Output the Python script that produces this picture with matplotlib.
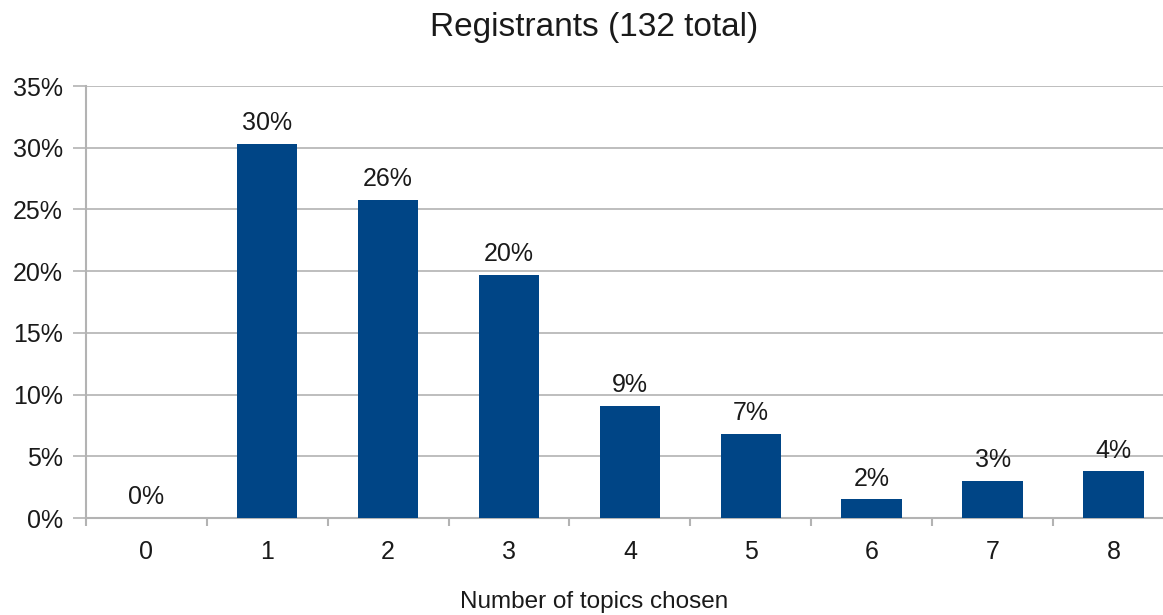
import matplotlib.pyplot as plt
from matplotlib.ticker import MultipleLocator, FuncFormatter

plt.rcParams['font.family'] = ['Liberation Sans', 'DejaVu Sans']

# share of 132 registrants by number of topics chosen
topics = [0, 1, 2, 3, 4, 5, 6, 7, 8]
counts = [0, 40, 34, 26, 12, 9, 2, 4, 5]
total = 132
shares = [c / total * 100 for c in counts]

grid_col = "#b3b3b3"
bar_col = "#004586"
txt_col = "#1a1a1a"

fig = plt.figure(figsize=(11.63, 6.15), dpi=100)
ax = fig.add_axes([0.0739, 0.1577, 0.9355, 0.7024])

ax.bar(topics, shares, width=0.5, color=bar_col, zorder=3)

# labels above bars
for t, s in zip(topics, shares):
    ax.text(t, s + 0.7, "%d%%" % round(s), ha="center", va="bottom",
            fontsize=18, color=txt_col)

ax.set_xlim(-0.5, 8.5)
ax.set_ylim(0, 35)
ax.yaxis.set_major_locator(MultipleLocator(5))
ax.yaxis.set_major_formatter(FuncFormatter(lambda v, p: "%d%%" % v))
ax.grid(axis="y", color=grid_col, linewidth=1.2, zorder=0)

# category ticks at boundaries, labels in the middle
ax.set_xticks([t + 0.5 for t in topics[:-1]] + [-0.5])
ax.set_xticks(topics, minor=True)
ax.set_xticklabels(topics, minor=True)
ax.set_xticklabels([])
ax.tick_params(axis="x", which="major", length=6, color=grid_col, width=1.5)
ax.tick_params(axis="x", which="minor", length=0, pad=16, labelsize=18,
               labelcolor=txt_col)
ax.tick_params(axis="y", length=9.5, color=grid_col, width=1.2, pad=7,
               labelsize=18, labelcolor=txt_col)

for sp in ["top", "right"]:
    ax.spines[sp].set_visible(False)
for sp in ["left", "bottom"]:
    ax.spines[sp].set_color(grid_col)
    ax.spines[sp].set_linewidth(1.5)

# title and x label sit a bit right of the figure centre
fig.text(0.5105, 0.021, "Number of topics chosen", ha="center", va="center",
         fontsize=17.5, color=txt_col)
fig.text(0.5105, 0.956, "Registrants (132 total)", ha="center", va="center",
         fontsize=24, color=txt_col)

fig.savefig("out.png", dpi=100)
